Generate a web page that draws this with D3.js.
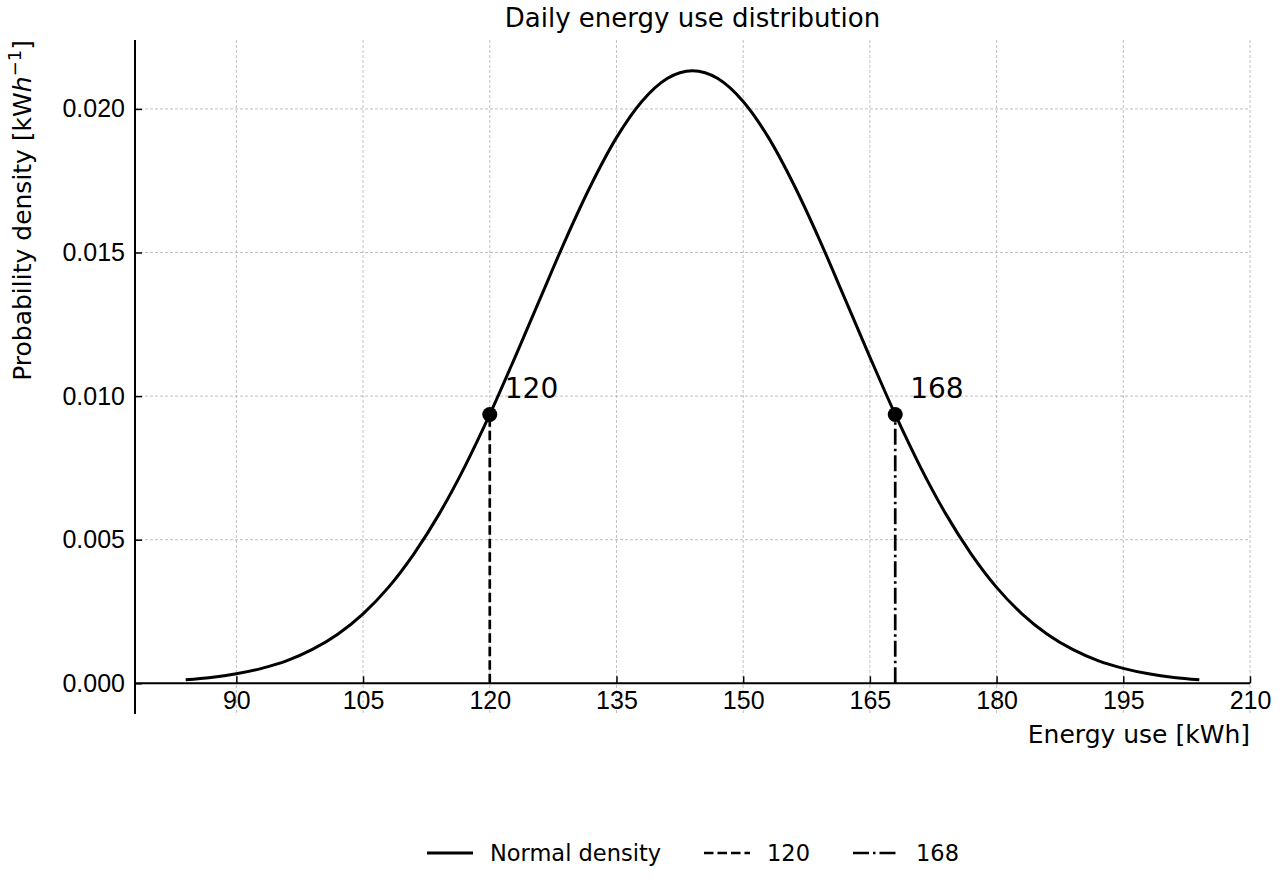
<!DOCTYPE html>
<html>
<head>
<meta charset="utf-8">
<script src="https://cdn.jsdelivr.net/npm/d3@7"></script>
<style>
  body { margin: 0; background: #fff; }
  svg { font-family: "DejaVu Sans", sans-serif; }
</style>
</head>
<body>
<div id="chart"></div>
<script>
const energy = [84, 87, 90, 93, 96, 99, 102, 105, 108, 111, 114, 117, 120, 123, 126, 129, 132, 135, 138, 141,
    144, 147, 150, 153, 156, 159, 162, 165, 168, 171, 174, 177, 180, 183, 186, 189, 192, 195, 198, 201, 204];
// Probability density
const density = [0.00012, 0.00020, 0.00033, 0.00052, 0.00079, 0.00118, 0.00171, 0.00242, 0.00334, 0.00450,
    0.00589, 0.00752, 0.00936, 0.01136, 0.01342, 0.01547, 0.01736, 0.01900, 0.02026, 0.02106,
    0.02133, 0.02106, 0.02026, 0.01900, 0.01736, 0.01547, 0.01342, 0.01136, 0.00936, 0.00752,
    0.00589, 0.00450, 0.00334, 0.00242, 0.00171, 0.00118, 0.00079, 0.00052, 0.00033, 0.00020, 0.00012];

// Marked thresholds
const marks = [120, 168];
const markDensity = [0.00936, 0.00936];
const markDash = ["9.5,4", "16,4,2.5,4"];

const xTicks = [90, 105, 120, 135, 150, 165, 180, 195, 210];
const yTicks = [0.000, 0.005, 0.010, 0.015, 0.020];

const legendLabels = ["Normal density", "120", "168"];

const width = 1280;
const height = 880;
const plot = {left: 135, right: 1250, top: 40, bottom: 714};

const svg = d3.select("#chart")
    .append("svg")
    .attr("width", width)
    .attr("height", height);

const x = d3.scaleLinear().domain([78, 210]).range([plot.left, plot.right]);
const y = d3.scaleLinear().domain([-0.00107, 0.0224]).range([plot.bottom, plot.top]);

// grid
svg.append("g").selectAll("line")
    .data(xTicks)
    .enter().append("line")
    .attr("x1", d => x(d)).attr("x2", d => x(d))
    .attr("y1", plot.top).attr("y2", plot.bottom)
    .attr("stroke", "#b0b0b0").attr("stroke-width", 0.8)
    .attr("stroke-dasharray", "3,2");

svg.append("g").selectAll("line")
    .data(yTicks)
    .enter().append("line")
    .attr("x1", plot.left).attr("x2", plot.right)
    .attr("y1", d => y(d)).attr("y2", d => y(d))
    .attr("stroke", "#b0b0b0").attr("stroke-width", 0.8)
    .attr("stroke-dasharray", "3,2");

// axes: x axis sits at density = 0, ticks point inward
const xAxis = svg.append("g")
    .attr("transform", `translate(0, ${y(0)})`)
    .call(d3.axisBottom(x).tickValues(xTicks).tickSize(-7).tickPadding(8));
xAxis.select(".domain").attr("d", `M${plot.left},0H${plot.right}`).attr("stroke-width", 2);
xAxis.selectAll(".tick line").attr("stroke-width", 1.5);
xAxis.selectAll("text").style("font-size", "25px").attr("fill", "#000")
    .attr("dy", "0.71em");

const yAxis = svg.append("g")
    .attr("transform", `translate(${plot.left}, 0)`)
    .call(d3.axisLeft(y).tickValues(yTicks).tickSize(-7).tickPadding(10).tickFormat(d3.format(".3f")));
yAxis.select(".domain").attr("d", `M0,${plot.top}V${plot.bottom}`).attr("stroke-width", 2);
yAxis.selectAll(".tick line").attr("stroke-width", 1.5);
yAxis.selectAll("text").style("font-size", "25px").attr("fill", "#000");

// curve
const points = energy.map((e, i) => ({e: e, d: density[i]}));
const line = d3.line()
    .x(p => x(p.e))
    .y(p => y(p.d))
    .curve(d3.curveMonotoneX);

svg.append("path")
    .datum(points)
    .attr("d", line)
    .attr("fill", "none")
    .attr("stroke", "#000")
    .attr("stroke-width", 3);

// threshold lines, dots and labels
marks.forEach((m, i) => {
    svg.append("line")
        .attr("x1", x(m)).attr("x2", x(m))
        .attr("y1", y(0)).attr("y2", y(markDensity[i]))
        .attr("stroke", "#000")
        .attr("stroke-width", 2.7)
        .attr("stroke-dasharray", markDash[i]);
    svg.append("circle")
        .attr("cx", x(m)).attr("cy", y(markDensity[i]))
        .attr("r", 7.5)
        .attr("fill", "#000");
    svg.append("text")
        .attr("x", x(m) + 15)
        .attr("y", y(markDensity[i]) - 16)
        .style("font-size", "28px")
        .text(m);
});

// title and axis labels
svg.append("text")
    .attr("x", (plot.left + plot.right) / 2)
    .attr("y", 27)
    .attr("text-anchor", "middle")
    .style("font-size", "26px")
    .text("Daily energy use distribution");

svg.append("text")
    .attr("x", plot.right)
    .attr("y", 743)
    .attr("text-anchor", "end")
    .style("font-size", "25px")
    .text("Energy use [kWh]");

const yLabel = svg.append("text")
    .attr("transform", `translate(31, ${plot.top}) rotate(-90)`)
    .attr("text-anchor", "end")
    .style("font-size", "25px");
yLabel.append("tspan").text("Probability density [kW");
yLabel.append("tspan").style("font-style", "italic").text("h");
yLabel.append("tspan").attr("dy", -10).style("font-size", "18px").text("\u22121");
yLabel.append("tspan").attr("dy", 10).text("]");

// legend
const legendX = [427, 704, 853];
const legend = svg.append("g").attr("transform", "translate(0, 853)");
legendLabels.forEach((lab, i) => {
    legend.append("line")
        .attr("x1", legendX[i]).attr("x2", legendX[i] + 46)
        .attr("y1", 0).attr("y2", 0)
        .attr("stroke", "#000")
        .attr("stroke-width", i === 0 ? 3 : 2.7)
        .attr("stroke-dasharray", i === 0 ? null : markDash[i - 1]);
    legend.append("text")
        .attr("x", legendX[i] + 63)
        .attr("y", 8)
        .style("font-size", "22.5px")
        .text(lab);
});
</script>
</body>
</html>
